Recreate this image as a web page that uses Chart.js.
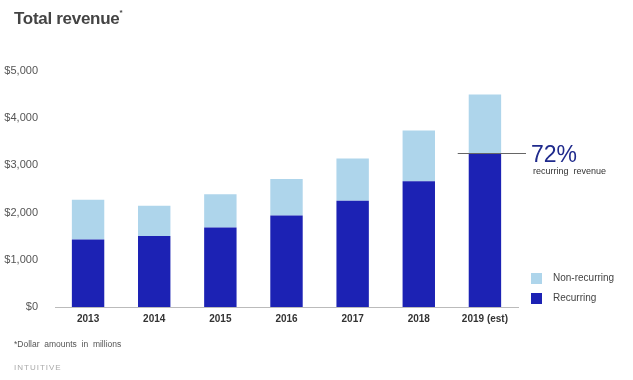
<!DOCTYPE html>
<html><head><meta charset="utf-8">
<script src="https://cdn.jsdelivr.net/npm/chart.js@4/dist/chart.umd.min.js"></script>
<style>
html,body{margin:0;padding:0;background:#fff;}
#wrap{position:relative;width:633px;height:380px;overflow:hidden;font-family:"Liberation Sans",Arial,sans-serif;}
#c{position:absolute;left:0;top:0;}
.t{position:absolute;white-space:nowrap;}
</style></head><body>
<div id="wrap">
<canvas id="c" width="633" height="380"></canvas>
<div class="t" style="left:14px;top:9px;font-size:17px;font-weight:bold;color:#444;letter-spacing:-0.3px;">Total revenue<sup style="font-size:8px;vertical-align:top;position:relative;top:-1px;">*</sup></div>
<div class="t" id="pct" style="left:531px;top:141px;font-size:23px;color:#1f2a8c;">72%</div>
<div class="t" style="left:533px;top:166px;font-size:9px;color:#333;">recurring&nbsp; revenue</div>
<div class="t" style="left:531px;top:273px;width:11px;height:11px;background:#aed5eb;"></div>
<div class="t" style="left:553px;top:272px;font-size:10px;color:#444;">Non-recurring</div>
<div class="t" style="left:531px;top:293px;width:11px;height:11px;background:#1c22b4;"></div>
<div class="t" style="left:553px;top:292px;font-size:10px;color:#444;">Recurring</div>
<div class="t" style="left:14px;top:339px;font-size:8.5px;color:#555;">*Dollar&nbsp; amounts&nbsp; in&nbsp; millions</div>
<div class="t" style="left:14px;top:363px;font-size:8px;color:#aaa;letter-spacing:1px;">INTUITIVE</div>
</div>
<script>
const categories = ["2013","2014","2015","2016","2017","2018","2019 (est)"];
const recurring = [1432, 1506, 1685, 1940, 2251, 2663, 3260];
const nonRecurring = [838, 639, 702, 773, 894, 1077, 1240];
const yTicks = [0, 1000, 2000, 3000, 4000, 5000];
const annotationValue = 3260;

const annot = {
  id:'annot',
  afterDatasetsDraw(chart){
    const y = chart.scales.y.getPixelForValue(annotationValue);
    const meta = chart.getDatasetMeta(0);
    const bar = meta.data[meta.data.length-1];
    const ctx = chart.ctx;
    ctx.save();
    ctx.strokeStyle = '#666';
    ctx.lineWidth = 1;
    ctx.beginPath();
    ctx.moveTo(bar.x - bar.width/2 - 11, Math.round(y)+0.5);
    ctx.lineTo(526, Math.round(y)+0.5);
    ctx.stroke();
    ctx.restore();
  }
};

new Chart(document.getElementById('c'), {
  type:'bar',
  data:{
    labels:categories,
    datasets:[
      {label:'Recurring', data:recurring, backgroundColor:'#1c22b4', stack:'s'},
      {label:'Non-recurring', data:nonRecurring, backgroundColor:'#aed5eb', stack:'s'}
    ]
  },
  options:{
    responsive:false,
    animation:false,
    devicePixelRatio:1,
    layout:{padding:{left:0,top:71,right:115,bottom:48}},
    plugins:{legend:{display:false},tooltip:{enabled:false}},
    datasets:{bar:{categoryPercentage:1,barPercentage:0.49}},
    scales:{
      x:{
        stacked:true,
        grid:{display:false},
        border:{display:true,color:'#bbb'},
        ticks:{color:'#333',font:{family:'Liberation Sans',size:10,weight:'bold'},padding:-2},
        afterFit(s){s.height=25;}
      },
      y:{
        stacked:true,
        min:0,max:5000,
        grid:{display:false},
        border:{display:false},
        afterBuildTicks(s){s.ticks = yTicks.map(v=>({value:v}));},
        ticks:{color:'#555',font:{family:'Liberation Sans',size:11},padding:9,
          callback:v=>'$'+v.toLocaleString('en-US')},
        afterFit(s){s.width=55;}
      }
    }
  },
  plugins:[annot]
});
</script>
</body></html>
